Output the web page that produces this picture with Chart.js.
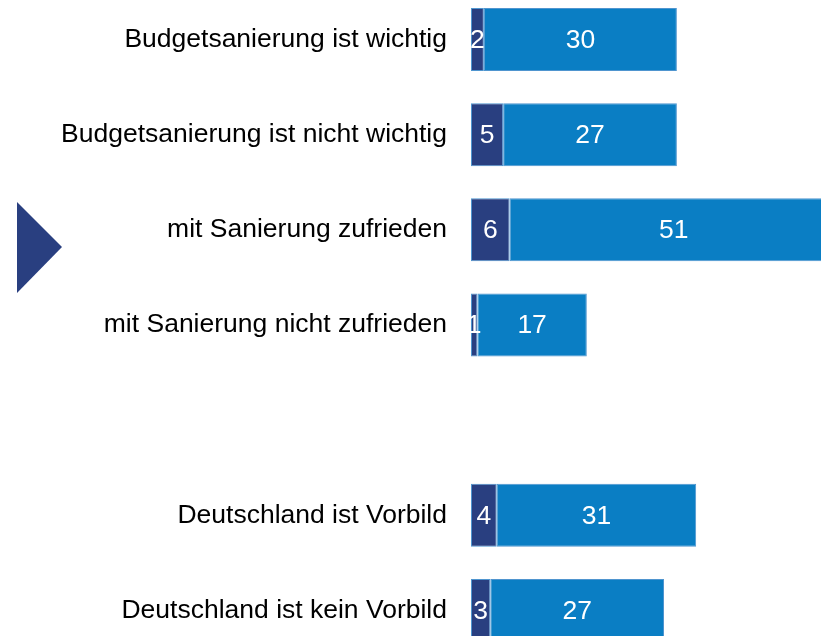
<!DOCTYPE html>
<html>
<head>
<meta charset="utf-8">
<script src="https://cdn.jsdelivr.net/npm/chart.js@4/dist/chart.umd.min.js"></script>
<style>
  html, body { margin: 0; padding: 0; background: #fff; overflow: hidden; }
  body { width: 821px; height: 636px; position: relative; }
  /* la última barra queda cortada por el borde inferior, como en la imagen */
  #caja { position: absolute; left: 0; top: -8px; width: 821px; height: 666px; }
</style>
</head>
<body>
<div id="caja"><canvas id="grafico"></canvas></div>
<script>
// Categorías (la quinta queda vacía como separador)
var categorias = [
  'Budgetsanierung ist wichtig',
  'Budgetsanierung ist nicht wichtig',
  'mit Sanierung zufrieden',
  'mit Sanierung nicht zufrieden',
  '',
  'Deutschland ist Vorbild',
  'Deutschland ist kein Vorbild'
];
var valoresOscuro = [2, 5, 6, 1, null, 4, 3];
var valoresClaro = [30, 27, 51, 17, null, 31, 27];

var fuente = "'Liberation Sans', Arial, sans-serif";
var azulOscuro = '#293f80';
var azulClaro = '#0a7ec4';

// ---- Etiquetas de valor centradas en cada segmento ----
var etiquetas = {
  id: 'etiquetas',
  afterDatasetsDraw: function (chart) {
    var ctx = chart.ctx;
    ctx.save();
    ctx.fillStyle = '#fff';
    ctx.font = '26.5px ' + fuente;
    ctx.textAlign = 'center';
    ctx.textBaseline = 'middle';
    chart.data.datasets.forEach(function (ds, i) {
      chart.getDatasetMeta(i).data.forEach(function (el, j) {
        var v = ds.data[j];
        if (v == null) return;
        ctx.fillText(String(v), (el.x + el.base) / 2, el.y + 1);
      });
    });
    ctx.restore();
  }
};

// ---- Flecha decorativa a la izquierda ----
var flecha = {
  id: 'flecha',
  afterDraw: function (chart) {
    var ctx = chart.ctx;
    ctx.save();
    ctx.fillStyle = azulOscuro;
    ctx.beginPath();
    ctx.moveTo(17, 210);
    ctx.lineTo(62, 255);
    ctx.lineTo(17, 301);
    ctx.closePath();
    ctx.fill();
    ctx.restore();
  }
};

Chart.defaults.color = '#000';
Chart.defaults.font.family = fuente;

new Chart(document.getElementById('grafico').getContext('2d'), {
  type: 'bar',
  data: {
    labels: categorias,
    datasets: [
      { data: valoresOscuro, backgroundColor: azulOscuro, borderColor: '#4f95cf', borderWidth: 1, borderSkipped: false },
      { data: valoresClaro, backgroundColor: azulClaro, borderColor: '#4f95cf', borderWidth: 1, borderSkipped: false }
    ]
  },
  options: {
    indexAxis: 'y',
    responsive: true,
    maintainAspectRatio: false,
    animation: false,
    layout: { padding: 0 },
    datasets: { bar: { categoryPercentage: 1, barPercentage: 0.662 } },
    scales: {
      x: { stacked: true, display: false, min: 0, max: 54.4 },
      y: {
        stacked: true,
        grid: { display: false, drawTicks: false },
        border: { display: false },
        ticks: { padding: 24, font: { size: 26.5 }, color: '#000' },
        afterFit: function (s) {
          s.width = 471;
          s.paddingTop = 0;
          s.paddingBottom = 0;
        }
      }
    },
    plugins: { legend: { display: false }, tooltip: { enabled: false } }
  },
  plugins: [etiquetas, flecha]
});
</script>
</body>
</html>
